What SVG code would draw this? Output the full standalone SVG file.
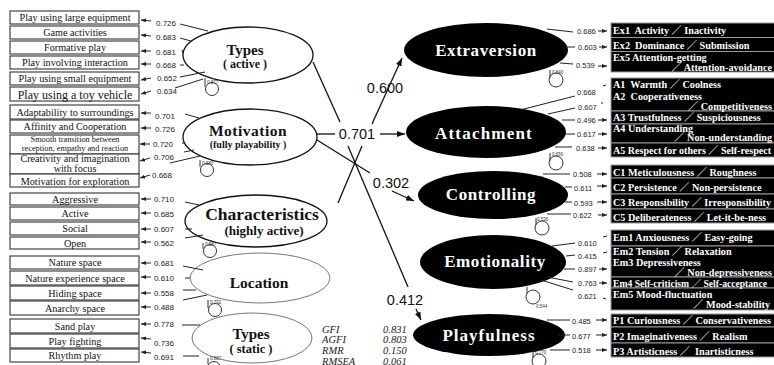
<svg xmlns="http://www.w3.org/2000/svg" width="774" height="365" viewBox="0 0 774 365">
  <style>
    .bx { fill: #fff; stroke: #444; stroke-width: 1.2; }
    .bt { font-family: "Liberation Serif", serif; font-size: 10.2px; text-anchor: middle; fill: #111; }
    .n { font-family: "Liberation Sans", sans-serif; font-size: 8px; fill: #222; }
    .rn { font-family: "Liberation Sans", sans-serif; font-size: 7.5px; fill: #222; }
    .ln { stroke: #222; stroke-width: 1; fill: none; }
    .el { fill: #fff; stroke: #111; stroke-width: 1.3; }
    .el2 { fill: #fff; stroke: #777; stroke-width: 1; }
    .et { font-family: "Liberation Serif", serif; font-weight: bold; text-anchor: middle; fill: #111; }
    .bk { fill: #000; }
    .wt { font-family: "Liberation Serif", serif; font-weight: bold; font-size: 17px; text-anchor: middle; fill: #fff; letter-spacing: 0.6px; }
    .rb { fill: #000; stroke: #999; stroke-width: 1; }
    .rt { font-family: "Liberation Serif", "Noto Sans CJK JP", serif; font-weight: bold; font-size: 10.2px; fill: #fff; }
    .re { text-anchor: end; }
    .er { fill: none; stroke: #333; stroke-width: 1; }
    .tiny { font-family: "Liberation Sans", sans-serif; font-size: 4.5px; fill: #333; }
    .pc { font-family: "Liberation Sans", sans-serif; font-size: 14.5px; fill: #111; text-anchor: middle; }
    .fit { font-family: "Liberation Serif", serif; font-style: italic; font-size: 10.5px; fill: #222; }
    .arr { stroke: #111; stroke-width: 1.3; fill: none; }
  </style>
  <defs>
    <marker id="ah" markerUnits="userSpaceOnUse" markerWidth="8" markerHeight="6" refX="8" refY="3" orient="auto">
      <path d="M0,0 L8,3 L0,6 z" fill="#111"/>
    </marker>
    <marker id="sa" markerUnits="userSpaceOnUse" markerWidth="5" markerHeight="4" refX="5" refY="2" orient="auto">
      <path d="M0,0 L5,2 L0,4 z" fill="#222"/>
    </marker>
  </defs>

  <rect width="774" height="365" fill="#fff"/>

  <!-- observed indicators, left -->
  <g id="ind-types-active">
    <rect class="bx" x="10" y="11" width="129" height="13"/><text class="bt" x="75" y="21">Play using large equipment</text>
    <rect class="bx" x="10" y="26" width="129" height="13"/><text class="bt" x="75" y="36">Game activities</text>
    <rect class="bx" x="10" y="41" width="129" height="13"/><text class="bt" x="75" y="51">Formative play</text>
    <rect class="bx" x="10" y="56" width="129" height="13"/><text class="bt" x="75" y="66">Play involving interaction</text>
    <rect class="bx" x="10" y="72" width="129" height="13"/><text class="bt" x="75" y="82">Play using small equipment</text>
    <rect class="bx" x="10" y="87" width="129" height="14"/><text class="bt" x="75" y="98.5" style="font-size:12px">Play using a toy vehicle</text>
  </g>
  <g id="ind-motivation">
    <rect class="bx" x="10" y="105" width="129" height="14"/><text class="bt" x="75" y="115.5">Adaptability to surroundings</text>
    <rect class="bx" x="10" y="120" width="129" height="13"/><text class="bt" x="75" y="130">Affinity and Cooperation</text>
    <rect class="bx" x="10" y="135" width="129" height="19"/>
    <text class="bt" x="75" y="141.5" style="font-size:8.3px">Smooth transition between</text>
    <text class="bt" x="75" y="150.5" style="font-size:8.3px">reception, empathy and reaction</text>
    <rect class="bx" x="10" y="154" width="129" height="20"/>
    <text class="bt" x="75" y="162">Creativity and imagination</text>
    <text class="bt" x="75" y="172">with focus</text>
    <rect class="bx" x="10" y="174" width="129" height="13"/><text class="bt" x="75" y="184.5">Motivation for exploration</text>
  </g>
  <g id="ind-characteristics">
    <rect class="bx" x="10" y="193" width="129" height="12"/><text class="bt" x="75" y="202.5">Aggressive</text>
    <rect class="bx" x="10" y="207" width="129" height="13"/><text class="bt" x="75" y="217">Active</text>
    <rect class="bx" x="10" y="222" width="129" height="13"/><text class="bt" x="75" y="232">Social</text>
    <rect class="bx" x="10" y="237" width="129" height="12"/><text class="bt" x="75" y="246.5">Open</text>
  </g>
  <g id="ind-location">
    <rect class="bx" x="10" y="256" width="129" height="13"/><text class="bt" x="75" y="266">Nature space</text>
    <rect class="bx" x="10" y="271" width="129" height="14"/><text class="bt" x="75" y="281.5">Nature experience space</text>
    <rect class="bx" x="10" y="286" width="129" height="14"/><text class="bt" x="75" y="296.5">Hiding space</text>
    <rect class="bx" x="10" y="301" width="129" height="14"/><text class="bt" x="75" y="311.5">Anarchy space</text>
  </g>
  <g id="ind-types-static">
    <rect class="bx" x="10" y="319" width="129" height="14"/><text class="bt" x="75" y="329.5">Sand play</text>
    <rect class="bx" x="10" y="334" width="129" height="14"/><text class="bt" x="75" y="344.5">Play fighting</text>
    <rect class="bx" x="10" y="349" width="129" height="13"/><text class="bt" x="75" y="359">Rhythm play</text>
  </g>

  <!-- latent factors, left -->
  <g id="types-active">
    <ellipse class="el" cx="248" cy="55" rx="65" ry="28"/>
    <text class="et" x="245" y="54.5" font-size="15">Types</text>
    <text class="et" x="245" y="68" font-size="12">( active )</text>
  </g>
  <g id="motivation">
    <ellipse class="el" cx="250" cy="137" rx="67" ry="28"/>
    <text class="et" x="248" y="136" font-size="15.5" style="letter-spacing:0.5px">Motivation</text>
    <text class="et" x="248" y="148" font-size="10">(fully playability )</text>
  </g>
  <g id="characteristics">
    <ellipse class="el" cx="256" cy="221" rx="71" ry="26"/>
    <text class="et" x="262" y="220" font-size="17.5">Characteristics</text>
    <text class="et" x="264" y="235" font-size="13">(highly active)</text>
  </g>
  <g id="location">
    <ellipse class="el2" cx="260" cy="278" rx="70" ry="25"/>
    <text class="et" x="259" y="288" font-size="15.5">Location</text>
  </g>
  <g id="types-static">
    <ellipse class="el2" cx="252" cy="338" rx="60" ry="25"/>
    <text class="et" x="251" y="339" font-size="15">Types</text>
    <text class="et" x="251" y="353" font-size="12.5">( static )</text>
  </g>

  <!-- latent factors, right -->
  <g id="extraversion">
    <ellipse class="bk" cx="486" cy="50" rx="82" ry="27"/>
    <text class="wt" x="486" y="56">Extraversion</text>
  </g>
  <g id="attachment">
    <ellipse class="bk" cx="486" cy="132" rx="80" ry="26"/>
    <text class="wt" x="484" y="139" style="letter-spacing:1.2px">Attachment</text>
  </g>
  <g id="controlling">
    <ellipse class="bk" cx="493" cy="195" rx="75" ry="24"/>
    <text class="wt" x="491" y="200">Controlling</text>
  </g>
  <g id="emotionality">
    <ellipse class="bk" cx="493" cy="262" rx="73" ry="27"/>
    <text class="wt" x="495" y="267">Emotionality</text>
  </g>
  <g id="playfulness">
    <ellipse class="bk" cx="489" cy="335" rx="76" ry="21"/>
    <text class="wt" x="489" y="341" style="letter-spacing:1px">Playfulness</text>
  </g>

  <!-- observed indicators, right -->
  <g id="ind-extraversion">
    <rect class="rb" x="611" y="23" width="170" height="14.5"/>
    <rect class="rb" x="611" y="37.5" width="170" height="14"/>
    <rect class="rb" x="611" y="51.5" width="170" height="20.5"/>
    <text class="rt" x="613" y="34" xml:space="preserve">Ex1  Activity ／ Inactivity</text>
    <text class="rt" x="613" y="48.5" xml:space="preserve">Ex2  Dominance ／ Submission</text>
    <text class="rt" x="613" y="61">Ex5 Attention-getting</text>
    <text class="rt re" x="772" y="70.5">／ Attention-avoidance</text>
  </g>
  <g id="ind-attachment">
    <rect class="rb" x="611" y="78" width="170" height="33"/>
    <rect class="rb" x="611" y="111" width="170" height="13"/>
    <rect class="rb" x="611" y="124" width="170" height="19"/>
    <rect class="rb" x="611" y="143" width="170" height="14"/>
    <text class="rt" x="613" y="88" xml:space="preserve">A1  Warmth ／ Coolness</text>
    <text class="rt" x="613" y="100" xml:space="preserve">A2  Cooperativeness</text>
    <text class="rt re" x="772" y="110">／ Competitiveness</text>
    <text class="rt" x="613" y="121">A3 Trustfulness ／ Suspiciousness</text>
    <text class="rt" x="613" y="132">A4 Understanding</text>
    <text class="rt re" x="772" y="141">／ Non-understanding</text>
    <text class="rt" x="613" y="153.5" textLength="158" lengthAdjust="spacingAndGlyphs">A5 Respect for others ／ Self-respect</text>
  </g>
  <g id="ind-controlling">
    <rect class="rb" x="611" y="165" width="170" height="13"/>
    <rect class="rb" x="611" y="178" width="170" height="16"/>
    <rect class="rb" x="611" y="194" width="170" height="15"/>
    <rect class="rb" x="611" y="209" width="170" height="14"/>
    <text class="rt" x="613" y="175.5">C1 Meticulousness ／ Roughness</text>
    <text class="rt" x="613" y="190.5">C2 Persistence ／ Non-persistence</text>
    <text class="rt" x="613" y="205.5" textLength="158" lengthAdjust="spacingAndGlyphs">C3 Responsibility ／ Irresponsibility</text>
    <text class="rt" x="613" y="220.5">C5 Deliberateness ／ Let-it-be-ness</text>
  </g>
  <g id="ind-emotionality">
    <rect class="rb" x="611" y="230" width="170" height="16"/>
    <rect class="rb" x="611" y="246" width="170" height="31"/>
    <rect class="rb" x="611" y="277" width="170" height="11"/>
    <rect class="rb" x="611" y="288" width="170" height="22"/>
    <text class="rt" x="613" y="240.5">Em1 Anxiousness ／ Easy-going</text>
    <text class="rt" x="613" y="254.5">Em2 Tension ／ Relaxation</text>
    <text class="rt" x="613" y="266">Em3 Depressiveness</text>
    <text class="rt re" x="772" y="275.5">／ Non-depressiveness</text>
    <text class="rt" x="613" y="286.5" style="font-size:9.6px" textLength="154" lengthAdjust="spacingAndGlyphs">Em4 Self-criticism ／ Self-acceptance</text>
    <text class="rt" x="613" y="298">Em5 Mood-fluctuation</text>
    <text class="rt re" x="770" y="307.5">／ Mood-stability</text>
  </g>
  <g id="ind-playfulness">
    <rect class="rb" x="611" y="314" width="170" height="13"/>
    <rect class="rb" x="611" y="327" width="170" height="16"/>
    <rect class="rb" x="611" y="343" width="170" height="14"/>
    <text class="rt" x="613" y="323.5" textLength="158" lengthAdjust="spacingAndGlyphs">P1 Curiousness ／ Conservativeness</text>
    <text class="rt" x="613" y="339.5">P2 Imaginativeness ／ Realism</text>
    <text class="rt" x="613" y="354.5" xml:space="preserve">P3 Artisticness ／  Inartisticness</text>
  </g>

  <!-- connectors -->
  <g id="connectors">
    <!-- loadings, left side -->
    <g id="load-left">
      <line class="ln" x1="151" y1="21" x2="141" y2="20" marker-end="url(#sa)"/><text class="n" x="156" y="26">0.726</text>
      <line class="ln" x1="151" y1="36" x2="141" y2="35" marker-end="url(#sa)"/><text class="n" x="156" y="40">0.683</text>
      <line class="ln" x1="151" y1="51" x2="141" y2="51" marker-end="url(#sa)"/><text class="n" x="156" y="55">0.681</text>
      <line class="ln" x1="151" y1="64" x2="141" y2="64" marker-end="url(#sa)"/><text class="n" x="156" y="68">0.668</text>
      <line class="ln" x1="151" y1="78" x2="141" y2="80" marker-end="url(#sa)"/><text class="n" x="157" y="81">0.652</text>
      <line class="ln" x1="151" y1="91" x2="141" y2="94" marker-end="url(#sa)"/><text class="n" x="157" y="94">0.634</text>
      <line class="ln" x1="180" y1="24" x2="208" y2="31"/>
      <line class="ln" x1="180" y1="38" x2="191" y2="41"/>
      <line class="ln" x1="182" y1="50" x2="183" y2="53"/>
      <line class="ln" x1="180" y1="65" x2="184" y2="65"/>
      <line class="ln" x1="180" y1="77" x2="205" y2="72"/>
      <line class="ln" x1="175" y1="88" x2="203" y2="79"/>

      <line class="ln" x1="151" y1="113" x2="141" y2="113" marker-end="url(#sa)"/><text class="n" x="155" y="119">0.701</text>
      <line class="ln" x1="151" y1="128" x2="141" y2="128" marker-end="url(#sa)"/><text class="n" x="155" y="132">0.726</text>
      <line class="ln" x1="150" y1="144" x2="140" y2="144" marker-end="url(#sa)"/><text class="n" x="153" y="147">0.720</text>
      <line class="ln" x1="150" y1="158" x2="140" y2="161" marker-end="url(#sa)"/><text class="n" x="154" y="160">0.706</text>
      <line class="ln" x1="150" y1="175" x2="140" y2="178" marker-end="url(#sa)"/><text class="n" x="152" y="178">0.668</text>
      <line class="ln" x1="185" y1="114" x2="199" y2="118"/>
      <line class="ln" x1="182" y1="143" x2="185" y2="143"/>
      <line class="ln" x1="184" y1="152" x2="194" y2="150"/>
      <line class="ln" x1="170" y1="163" x2="200" y2="156"/>

      <line class="ln" x1="151" y1="199" x2="141" y2="199" marker-end="url(#sa)"/><text class="n" x="154" y="202">0.710</text>
      <line class="ln" x1="151" y1="213" x2="141" y2="213" marker-end="url(#sa)"/><text class="n" x="154" y="217">0.685</text>
      <line class="ln" x1="151" y1="229" x2="141" y2="229" marker-end="url(#sa)"/><text class="n" x="154" y="232">0.607</text>
      <line class="ln" x1="151" y1="242" x2="141" y2="242" marker-end="url(#sa)"/><text class="n" x="154" y="246">0.562</text>
      <line class="ln" x1="185" y1="202" x2="199" y2="205"/>
      <line class="ln" x1="185" y1="229" x2="192" y2="229"/>
      <line class="ln" x1="185" y1="238" x2="203" y2="235"/>

      <line class="ln" x1="151" y1="263" x2="141" y2="263" marker-end="url(#sa)"/><text class="n" x="154" y="266">0.681</text>
      <line class="ln" x1="151" y1="277" x2="141" y2="277" marker-end="url(#sa)"/><text class="n" x="154" y="281">0.610</text>
      <line class="ln" x1="151" y1="293" x2="141" y2="293" marker-end="url(#sa)"/><text class="n" x="154" y="296">0.558</text>
      <line class="ln" x1="151" y1="307" x2="141" y2="307" marker-end="url(#sa)"/><text class="n" x="154" y="310">0.488</text>
      <line class="ln" x1="183" y1="266" x2="203" y2="270"/>
      <line class="ln" x1="185" y1="278" x2="190" y2="278"/>
      <line class="ln" x1="183" y1="290" x2="196" y2="290"/>
      <line class="ln" x1="183" y1="300" x2="207" y2="295"/>

      <line class="ln" x1="151" y1="324" x2="141" y2="324" marker-end="url(#sa)"/><text class="n" x="154" y="327">0.778</text>
      <line class="ln" x1="151" y1="339" x2="141" y2="338" marker-end="url(#sa)"/><text class="n" x="154" y="346">0.736</text>
      <line class="ln" x1="151" y1="353" x2="141" y2="352" marker-end="url(#sa)"/><text class="n" x="154" y="360">0.691</text>
      <line class="ln" x1="182" y1="325" x2="200" y2="325"/>
      <line class="ln" x1="183" y1="356" x2="199" y2="356"/>
    </g>

    <!-- error terms, left -->
    <g id="err-left">
      <path class="er" d="M205,78 V87"/><circle class="er" cx="212" cy="89" r="6.5"/><text class="tiny" x="207" y="84">0.877</text>
      <path class="er" d="M200,160 V167"/><circle class="er" cx="207" cy="170" r="6.5"/><text class="tiny" x="202" y="165">0.680</text>
      <path class="er" d="M203,243 V249"/><circle class="er" cx="210" cy="251" r="6.5"/><text class="tiny" x="205" y="246">0.587</text>
      <path class="er" d="M208,300 V308"/><circle class="er" cx="215" cy="310" r="6.5"/><text class="tiny" x="210" y="304">0.792</text>
      <path class="er" d="M208,358 V364"/><circle class="er" cx="214" cy="368" r="6.5"/><text class="tiny" x="210" y="360">0.887</text>
    </g>

    <!-- structural paths -->
    <g id="paths">
      <line class="arr" x1="313" y1="62" x2="340" y2="122"/>
      <line class="arr" x1="372" y1="124" x2="402" y2="58" marker-end="url(#ah)"/>
      <text class="pc" x="385" y="93">0.600</text>
      <line class="arr" x1="317" y1="134" x2="335" y2="134"/>
      <text class="pc" x="357" y="139">0.701</text>
      <line class="arr" x1="380" y1="134" x2="405" y2="134" marker-end="url(#ah)"/>
      <line class="arr" x1="338" y1="203" x2="362" y2="146"/>
      <line class="arr" x1="348" y1="146" x2="408" y2="287"/>
      <text class="pc" x="405" y="305">0.412</text>
      <line class="arr" x1="416" y1="309" x2="421" y2="320" marker-end="url(#ah)"/>
      <line class="arr" x1="317" y1="140" x2="370" y2="173"/>
      <text class="pc" x="391" y="188">0.302</text>
      <line class="arr" x1="392" y1="191" x2="414" y2="201" marker-end="url(#ah)"/>
    </g>

    <!-- loadings, right side -->
    <g id="load-right">
      <line class="ln" x1="547" y1="29" x2="573" y2="32"/><text class="rn" x="577" y="34">0.686</text><line class="ln" x1="598" y1="31" x2="607" y2="31" marker-end="url(#sa)"/>
      <line class="ln" x1="565" y1="47" x2="575" y2="47"/><text class="rn" x="578" y="49.5">0.603</text><line class="ln" x1="599" y1="47" x2="607" y2="47" marker-end="url(#sa)"/>
      <line class="ln" x1="560" y1="63" x2="573" y2="64"/><text class="rn" x="576" y="68">0.539</text><line class="ln" x1="598" y1="66" x2="607" y2="66" marker-end="url(#sa)"/>

      <line class="ln" x1="520" y1="110" x2="575" y2="96"/><text class="rn" x="577" y="95">0.668</text><line class="ln" x1="603" y1="86" x2="606" y2="85"/>
      <line class="ln" x1="548" y1="114" x2="575" y2="108"/><text class="rn" x="578" y="110">0.607</text><line class="ln" x1="601" y1="103" x2="603" y2="103"/>
      <line class="ln" x1="562" y1="120" x2="575" y2="120"/><text class="rn" x="577" y="122.5">0.496</text><line class="ln" x1="598" y1="120" x2="607" y2="120" marker-end="url(#sa)"/>
      <line class="ln" x1="565" y1="134" x2="575" y2="134"/><text class="rn" x="577" y="136.5">0.617</text><line class="ln" x1="598" y1="134" x2="607" y2="134" marker-end="url(#sa)"/>
      <line class="ln" x1="555" y1="147" x2="572" y2="147"/><text class="rn" x="576" y="151">0.638</text><line class="ln" x1="598" y1="148" x2="607" y2="148" marker-end="url(#sa)"/>

      <line class="ln" x1="543" y1="174" x2="570" y2="174"/><text class="rn" x="573" y="176.5">0.508</text><line class="ln" x1="597" y1="174" x2="607" y2="174" marker-end="url(#sa)"/>
      <line class="ln" x1="565" y1="187" x2="572" y2="187"/><text class="rn" x="574" y="190.5">0.611</text><line class="ln" x1="597" y1="186" x2="607" y2="186" marker-end="url(#sa)"/>
      <line class="ln" x1="565" y1="202" x2="572" y2="202"/><text class="rn" x="574" y="205.5">0.593</text><line class="ln" x1="597" y1="202" x2="607" y2="202" marker-end="url(#sa)"/>
      <line class="ln" x1="547" y1="214" x2="571" y2="214"/><text class="rn" x="573" y="218">0.622</text><line class="ln" x1="598" y1="215" x2="607" y2="215" marker-end="url(#sa)"/>

      <line class="ln" x1="552" y1="246" x2="575" y2="243"/><text class="rn" x="578" y="245.5">0.610</text><line class="ln" x1="603" y1="237" x2="607" y2="236"/>
      <line class="ln" x1="566" y1="256" x2="575" y2="255"/><text class="rn" x="578" y="258.5">0.415</text><line class="ln" x1="603" y1="253" x2="607" y2="252"/>
      <line class="ln" x1="564" y1="269" x2="575" y2="269"/><text class="rn" x="578" y="271.5">0.897</text><line class="ln" x1="599" y1="269" x2="607" y2="269" marker-end="url(#sa)"/>
      <line class="ln" x1="547" y1="277" x2="573" y2="282"/><text class="rn" x="578" y="285.5">0.763</text><line class="ln" x1="599" y1="283" x2="607" y2="283" marker-end="url(#sa)"/>
      <line class="ln" x1="541" y1="280" x2="573" y2="290"/><text class="rn" x="578" y="299">0.621</text><line class="ln" x1="603" y1="298" x2="606" y2="299"/>

      <line class="ln" x1="547" y1="320" x2="570" y2="320"/><text class="rn" x="572" y="323.5">0.485</text><line class="ln" x1="596" y1="320" x2="607" y2="320" marker-end="url(#sa)"/>
      <line class="ln" x1="558" y1="335" x2="570" y2="335"/><text class="rn" x="572" y="338.5">0.677</text><line class="ln" x1="596" y1="335" x2="607" y2="335" marker-end="url(#sa)"/>
      <line class="ln" x1="550" y1="350" x2="570" y2="350"/><text class="rn" x="572" y="353">0.518</text><line class="ln" x1="596" y1="350" x2="607" y2="350" marker-end="url(#sa)"/>
    </g>

    <!-- error terms, right -->
    <g id="err-right">
      <path class="er" d="M550,70 V78"/><circle class="er" cx="556" cy="80" r="7"/><text class="tiny" x="552" y="74">0.840</text>
      <path class="er" d="M550,153 V161"/><circle class="er" cx="556" cy="163" r="7"/><text class="tiny" x="552" y="156">0.656</text>
      <path class="er" d="M536,218 V225"/><circle class="er" cx="542" cy="228" r="7"/><text class="tiny" x="537" y="221">0.536</text>
      <path class="er" d="M527,287 V294"/><circle class="er" cx="533" cy="297" r="7"/><text class="tiny" x="536" y="308">0.544</text>
      <path class="er" d="M533,350 V358"/><circle class="er" cx="539" cy="361" r="7"/><text class="tiny" x="535" y="354">0.770</text>
    </g>
  </g>

  <!-- fit indices -->
  <g id="fit">
    <text class="fit" x="322" y="332.5">GFI</text><text class="fit" x="383" y="332.5">0.831</text>
    <text class="fit" x="322" y="343">AGFI</text><text class="fit" x="383" y="343">0.803</text>
    <text class="fit" x="322" y="353.5">RMR</text><text class="fit" x="383" y="353.5">0.150</text>
    <text class="fit" x="322" y="364.5">RMSEA</text><text class="fit" x="383" y="364.5">0.061</text>
  </g>
</svg>
